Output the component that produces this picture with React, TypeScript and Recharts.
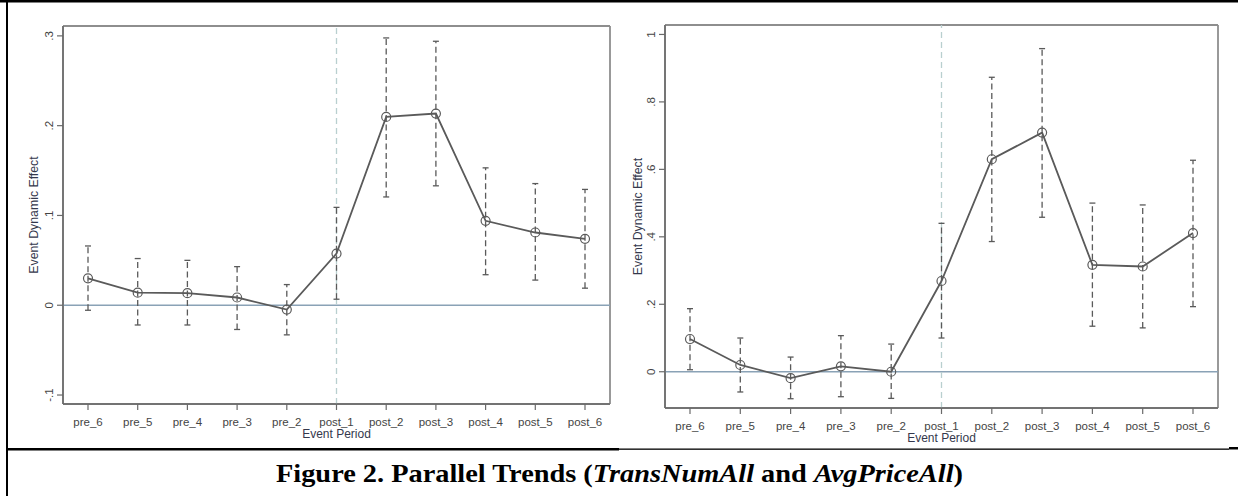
import React from 'react';
import { ComposedChart, Line, XAxis, YAxis, ErrorBar, ReferenceLine, CartesianGrid } from 'recharts';

const periods = ['pre_6', 'pre_5', 'pre_4', 'pre_3', 'pre_2', 'post_1', 'post_2', 'post_3', 'post_4', 'post_5', 'post_6'];

// TransNumAll: point estimates and 95% CI bounds
const transCoef = [0.030, 0.014, 0.0134, 0.0086, -0.0048, 0.0575, 0.2097, 0.2135, 0.094, 0.081, 0.074];
const transLow = [-0.0056, -0.022, -0.022, -0.027, -0.033, 0.0067, 0.1206, 0.133, 0.034, 0.028, 0.019];
const transHigh = [0.066, 0.052, 0.050, 0.043, 0.023, 0.109, 0.2977, 0.294, 0.153, 0.1355, 0.129];

// AvgPriceAll
const priceCoef = [0.097, 0.020, -0.019, 0.016, 0.0, 0.269, 0.630, 0.709, 0.317, 0.312, 0.411];
const priceLow = [0.006, -0.060, -0.080, -0.074, -0.079, 0.100, 0.386, 0.458, 0.135, 0.130, 0.193];
const priceHigh = [0.187, 0.100, 0.0435, 0.107, 0.082, 0.440, 0.873, 0.958, 0.500, 0.4945, 0.627];

const transTicks = [-0.1, 0, 0.1, 0.2, 0.3];
const transTickLabels = ['-.1', '0', '.1', '.2', '.3'];
const priceTicks = [0, 0.2, 0.4, 0.6, 0.8, 1];
const priceTickLabels = ['0', '.2', '.4', '.6', '.8', '1'];

const FONT = '"Liberation Sans", Arial, sans-serif';
const AXIS = '#6a6a6a';
const BOX = '#8e8e8e';
const SERIES = '#5a5a5a';

function buildRows(coef: number[], low: number[], high: number[]) {
  return periods.map((p, i) => ({
    period: p,
    coef: coef[i],
    err: [coef[i] - low[i], high[i] - coef[i]],
  }));
}

function YTick(props: any) {
  const { x, y, payload, ticks, labels } = props;
  const idx = ticks.indexOf(payload.value);
  return (
    <text x={x} y={y} transform={`rotate(-90 ${x} ${y})`} textAnchor="middle"
      fill="#444" fontSize={11.5} fontFamily={FONT}>
      {idx >= 0 ? labels[idx] : ''}
    </text>
  );
}

function XTick(props: any) {
  const { x, y, payload } = props;
  return (
    <text x={x} y={y} dy="0.71em" textAnchor="middle" fill="#444" fontSize={11.5} fontFamily={FONT}>
      {payload.value}
    </text>
  );
}

function YTitle(props: any) {
  const { viewBox, dx } = props;
  const x = viewBox.x + dx;
  const y = viewBox.y + viewBox.height / 2;
  return (
    <text x={x} y={y} transform={`rotate(-90 ${x} ${y})`} textAnchor="middle"
      fill="#34384c" fontSize={12.3} fontFamily={FONT}>
      Event Dynamic Effect
    </text>
  );
}

// plot region frame: lines on the four edges of the plotting area
const frameH = ({ offset }: any) => [offset.top, offset.top + offset.height];
const frameV = ({ offset }: any) => [offset.left, offset.left + offset.width];

interface PanelProps {
  rows: any[];
  domain: [number, number];
  ticks: number[];
  labels: string[];
  width: number;
  height: number;
  margin: { top: number; right: number; left: number; bottom: number };
  yAxisWidth: number;
  titleDx: number;
}

function Panel({ rows, domain, ticks, labels, width, height, margin, yAxisWidth, titleDx }: PanelProps) {
  return (
    <ComposedChart width={width} height={height} data={rows} margin={margin}>
      <CartesianGrid stroke={BOX} strokeWidth={1.8}
        horizontalCoordinatesGenerator={frameH} verticalCoordinatesGenerator={frameV} />
      <XAxis dataKey="period" type="category" padding={{ left: 25, right: 25 }}
        height={30} interval={0} tickSize={6} tickMargin={8}
        axisLine={{ stroke: AXIS, strokeWidth: 1.5 }} tickLine={{ stroke: AXIS, strokeWidth: 1.2 }}
        tick={<XTick />}
        label={{ value: 'Event Period', position: 'bottom', offset: -5, fill: '#34384c', fontSize: 12, fontFamily: FONT }} />
      <YAxis type="number" domain={domain} ticks={ticks} allowDataOverflow width={yAxisWidth}
        tickSize={6} tickMargin={4}
        axisLine={{ stroke: AXIS, strokeWidth: 1.5 }} tickLine={{ stroke: AXIS, strokeWidth: 1.2 }}
        tick={<YTick ticks={ticks} labels={labels} />}
        label={<YTitle dx={titleDx} />} />
      <ReferenceLine y={0} stroke="#8aa2b6" strokeWidth={1.5} />
      <ReferenceLine x="post_1" stroke="#b9cfcf" strokeWidth={1.3} strokeDasharray="6 4" />
      <Line type="linear" dataKey="coef" stroke={SERIES} strokeWidth={1.8}
        dot={{ r: 4.5, fill: 'none', stroke: SERIES, strokeWidth: 1.2 }}
        activeDot={false} isAnimationActive={false}>
        <ErrorBar dataKey="err" direction="y" width={3} stroke={SERIES}
          strokeWidth={1.3} strokeDasharray="6 3.5" />
      </Line>
    </ComposedChart>
  );
}

export default function App() {
  const transRows = buildRows(transCoef, transLow, transHigh);
  const priceRows = buildRows(priceCoef, priceLow, priceHigh);
  return (
    <div style={{ position: 'absolute', left: 0, top: 0, width: 1238, height: 496, background: '#fff', overflow: 'hidden' }}>
      <div style={{ position: 'absolute', left: 0, top: 0 }}>
        <Panel rows={transRows} domain={[-0.11, 0.311]} ticks={transTicks} labels={transTickLabels}
          width={620} height={448} margin={{ top: 26, right: 10, left: 13, bottom: 14 }}
          yAxisWidth={50} titleDx={25} />
      </div>
      <div style={{ position: 'absolute', left: 615, top: 0 }}>
        <Panel rows={priceRows} domain={[-0.1075, 1.028]} ticks={priceTicks} labels={priceTickLabels}
          width={623} height={452} margin={{ top: 25, right: 20, left: 10, bottom: 14 }}
          yAxisWidth={40} titleDx={17} />
      </div>
      <svg width={1238} height={496} style={{ position: 'absolute', left: 0, top: 0 }}>
        <rect x={0} y={0} width={1238} height={2.5} fill="#000" />
        <rect x={6} y={0} width={2} height={496} fill="#000" />
        <rect x={6} y={448} width={613} height={2.5} fill="#000" />
        <rect x={619} y={448.5} width={610} height={1.3} fill="#000" />
        <rect x={1229} y={447} width={9} height={2.5} fill="#000" />
        <text x={619.5} y={482} textAnchor="middle" fontFamily='"Liberation Serif", serif'
          fontWeight="bold" fontSize={26} fill="#000" textLength={687} lengthAdjust="spacingAndGlyphs">
          Figure 2. Parallel Trends (<tspan fontStyle="italic">TransNumAll</tspan> and <tspan fontStyle="italic">AvgPriceAll</tspan>)
        </text>
      </svg>
    </div>
  );
}
